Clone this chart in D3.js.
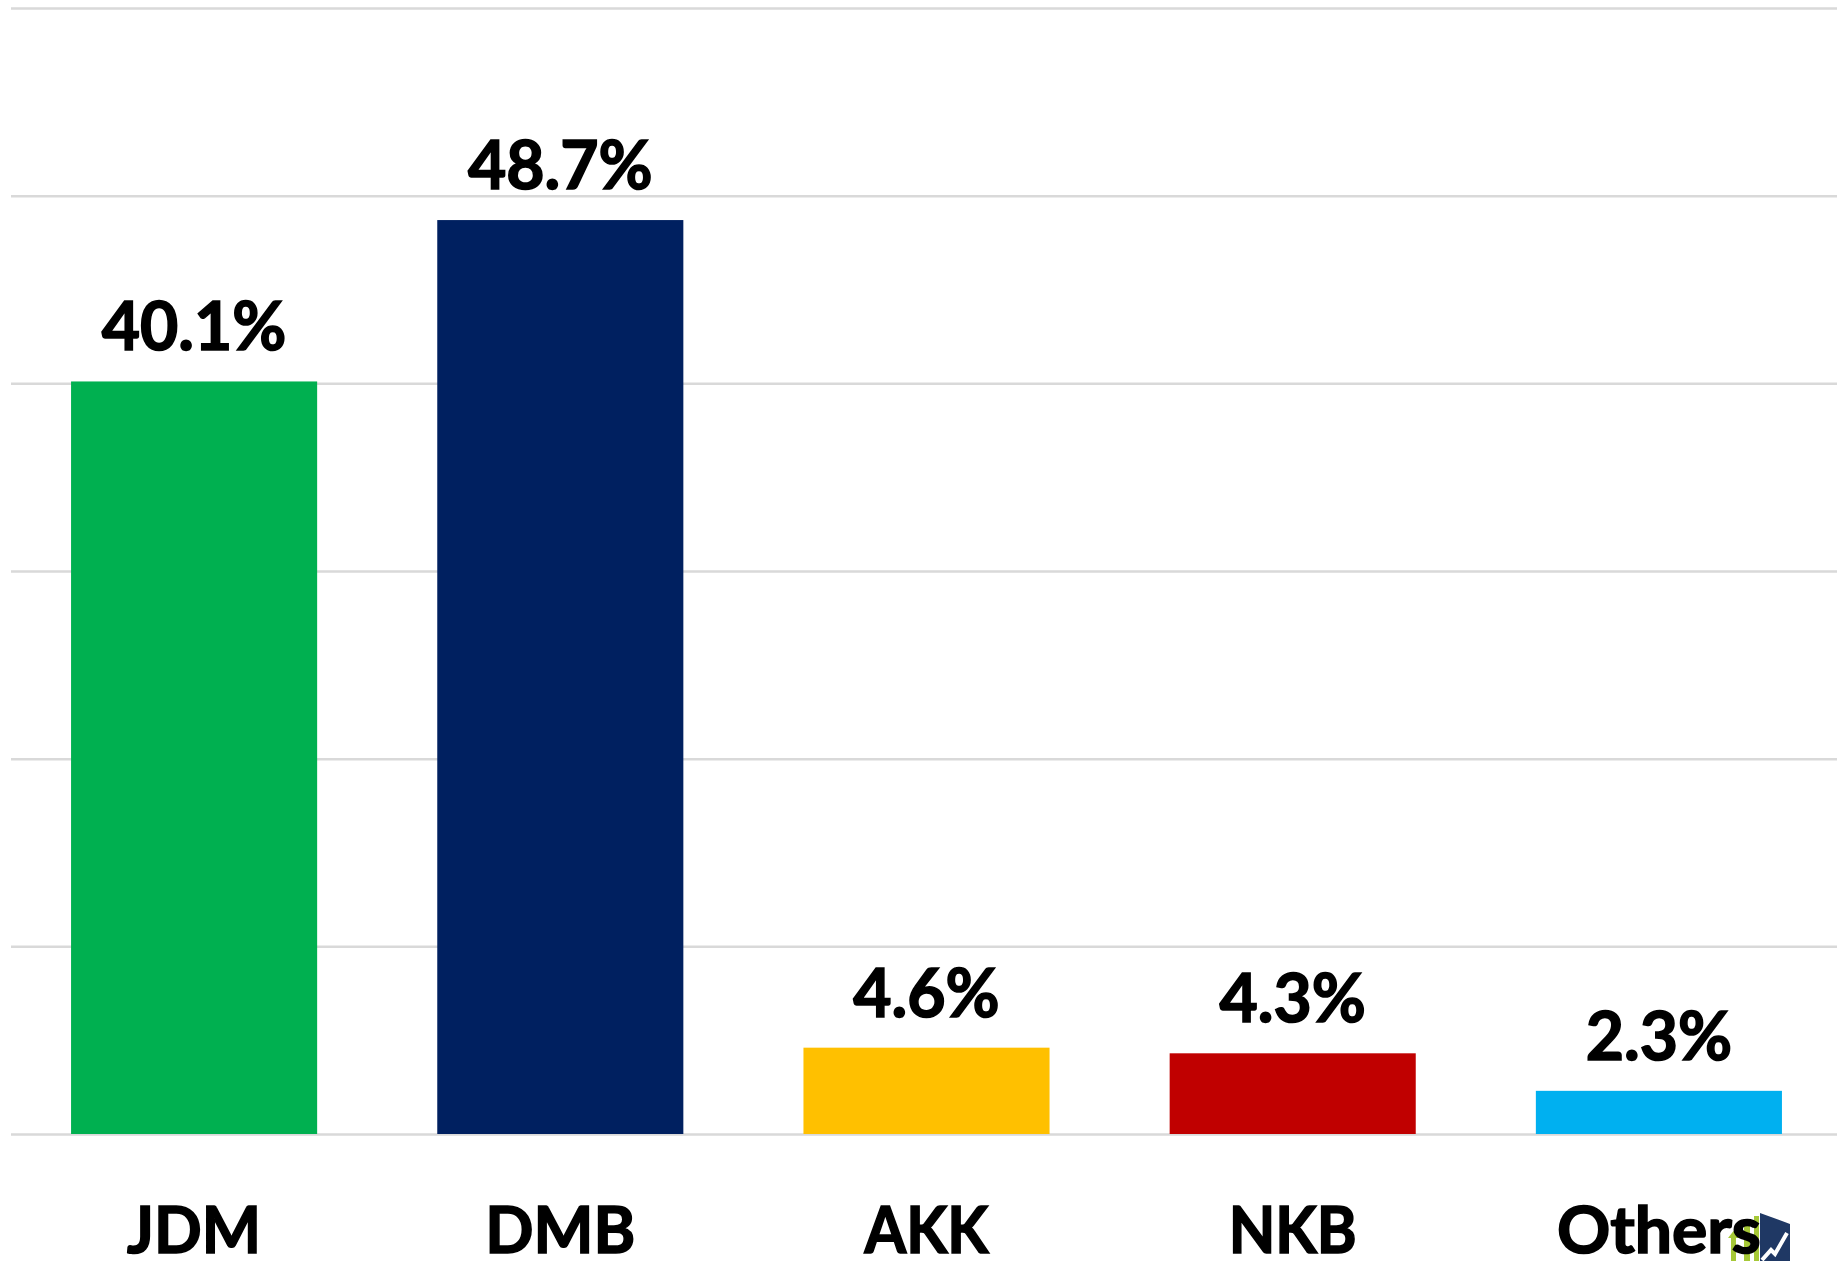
<!DOCTYPE html>
<html>
<head>
<meta charset="utf-8">
<script src="https://cdnjs.cloudflare.com/ajax/libs/d3/7.8.5/d3.min.js"></script>
<style>
html, body { margin: 0; padding: 0; background: #fff; overflow: hidden; }
text { font-family: Lato, "Open Sans", sans-serif; font-weight: 700; fill: #000; stroke: #000; stroke-width: 1.6px; }
</style>
</head>
<body>
<div id="chart"></div>
<script>
var categories = ["JDM", "DMB", "AKK", "NKB", "Others"];
var shares = [40.1, 48.7, 4.6, 4.3, 2.3];
var barColors = ["#00B050", "#002060", "#FFC000", "#C00000", "#00B0F0"];
var yTicks = [0, 10, 20, 30, 40, 50, 60];

var svgWidth = 1837;
var svgHeight = 1261;
var plotLeft = 11;
var plotRight = 1842;
var plotTop = 8;
var plotBottom = 1134;

// Lato is wider than the original font on some capitals, so fit the labels
var labelWidths = [134, 150, 124, 128, 204];

var svg = d3.select("#chart")
    .append("svg")
    .attr("width", svgWidth)
    .attr("height", svgHeight)
    .style("display", "block");

var xScale = d3.scaleBand()
    .domain(categories)
    .range([plotLeft, plotRight])
    .paddingInner(0.328)
    .paddingOuter(0.164);

var yScale = d3.scaleLinear()
    .domain([0, 60])
    .range([plotBottom, plotTop]);

// gridlines, no tick labels in the original
var yAxisCall = d3.axisLeft(yScale)
    .tickValues(yTicks)
    .tickSize(-(plotRight - plotLeft))
    .tickFormat("");

var yAxisGroup = svg.append("g")
    .attr("transform", `translate(${plotLeft},0)`)
    .call(yAxisCall);
yAxisGroup.select(".domain").remove();
yAxisGroup.selectAll("line")
    .attr("stroke", "#d9d9d9")
    .attr("stroke-width", 2.5);

svg.append("g").selectAll("rect")
    .data(categories)
    .enter()
    .append("rect")
    .attr("x", d => xScale(d))
    .attr("y", (d, i) => yScale(shares[i]))
    .attr("width", xScale.bandwidth())
    .attr("height", (d, i) => plotBottom - yScale(shares[i]))
    .attr("fill", (d, i) => barColors[i]);

// small logo in the bottom right corner, sits under the "Others" label
var logo = svg.append("g");
[[1731, 5, 1236], [1744, 6, 1222], [1754, 5, 1216]].forEach(b => {
    logo.append("rect")
        .attr("x", b[0])
        .attr("y", b[2])
        .attr("width", b[1])
        .attr("height", 1261 - b[2])
        .attr("fill", "#a6c837");
});
logo.append("path")
    .attr("d", "M1728,1238 l5.5,-7 l5.5,7 z")
    .attr("fill", "#a6c837");
logo.append("path")
    .attr("d", "M1760,1213 L1790,1224 L1790,1261 L1760,1261 Z")
    .attr("fill", "#1f3864");
logo.append("path")
    .attr("d", "M1762,1260 L1771,1250 L1775,1254 L1787,1233")
    .attr("fill", "none")
    .attr("stroke", "#fff")
    .attr("stroke-width", 4);

svg.append("g").selectAll("text")
    .data(categories)
    .enter()
    .append("text")
    .attr("x", d => xScale(d) + xScale.bandwidth() / 2)
    .attr("y", (d, i) => yScale(shares[i]) - 31)
    .attr("text-anchor", "middle")
    .attr("font-size", "66px")
    .text((d, i) => shares[i].toFixed(1) + "%");

svg.append("g").selectAll("text")
    .data(categories)
    .enter()
    .append("text")
    .attr("x", d => xScale(d) + xScale.bandwidth() / 2)
    .attr("y", 1253)
    .attr("text-anchor", "middle")
    .attr("font-size", "65px")
    .attr("textLength", (d, i) => labelWidths[i])
    .attr("lengthAdjust", "spacingAndGlyphs")
    .text(d => d);
</script>
</body>
</html>
